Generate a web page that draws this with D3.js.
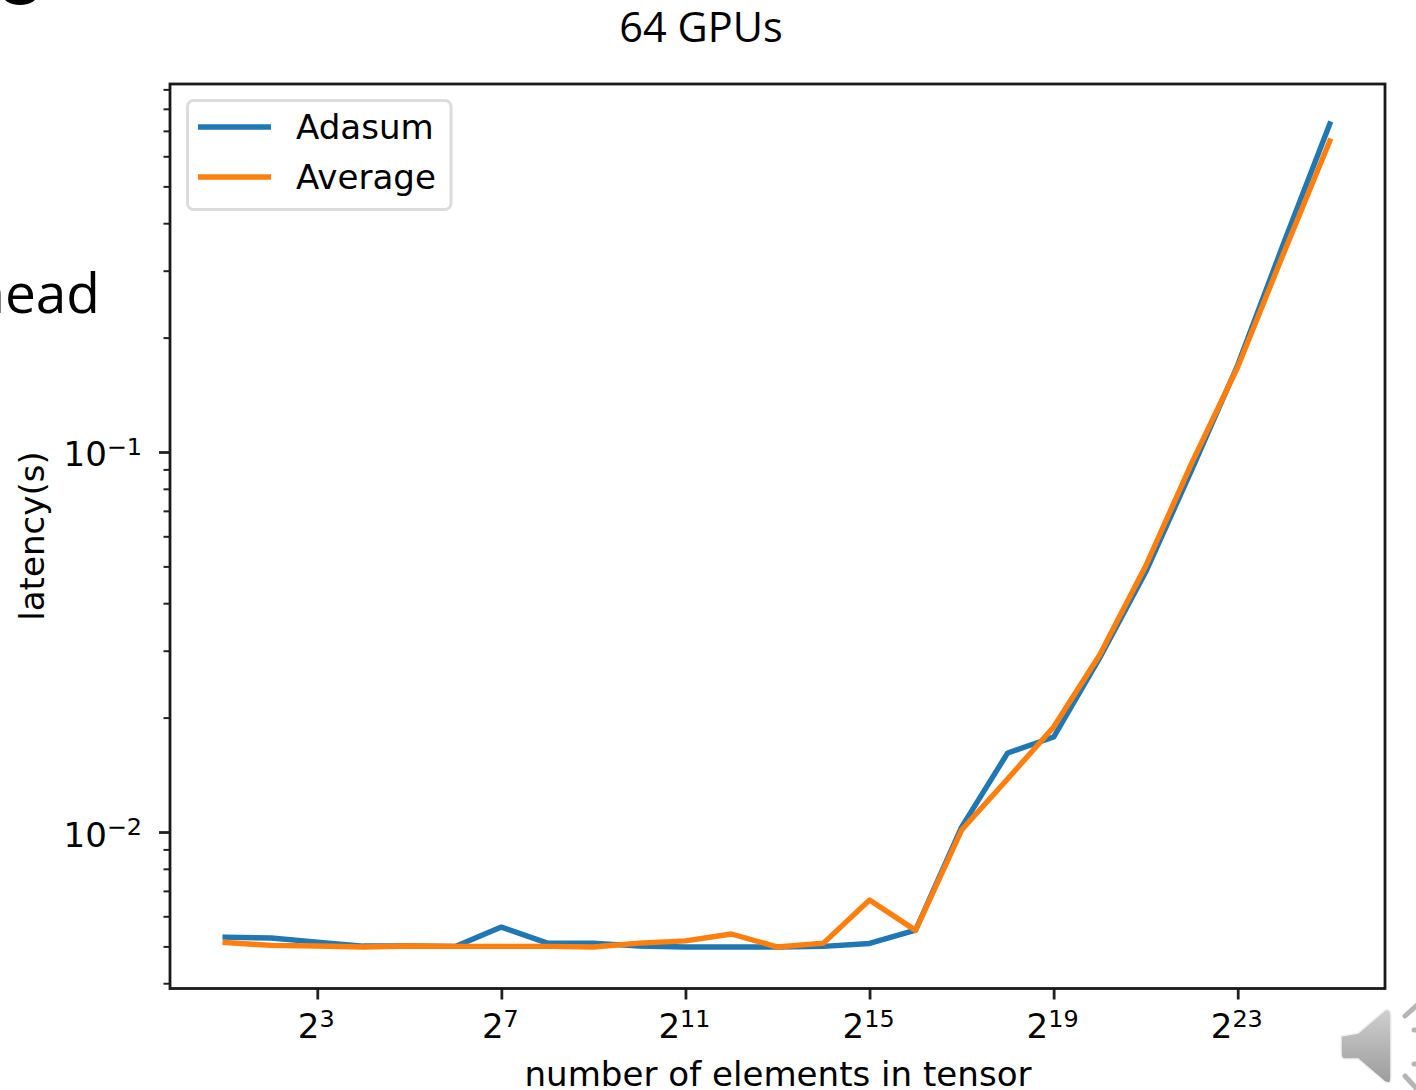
<!DOCTYPE html>
<html>
<head>
<meta charset="utf-8">
<style>
  html, body { margin: 0; padding: 0; background: #fff; overflow: hidden; }
  svg { display: block; }
  text { font-family: "DejaVu Sans", sans-serif; fill: #000; }
  .slide { font-family: "Open Sans", "Noto Sans", sans-serif; }
</style>
<script src="https://cdn.jsdelivr.net/npm/d3@7"></script>
</head>
<body>
<svg id="chart" width="1416" height="1090"></svg>
<script>
// element count is 2^exponent
const exponents = [1, 2, 3, 4, 5, 6, 7, 8, 9, 10, 11, 12, 13, 14, 15, 16, 17, 18, 19, 20, 21, 22, 23, 24, 25];
const adasum = [0.00529, 0.00526, 0.00513, 0.00501, 0.00501, 0.005, 0.00562, 0.0051, 0.0051, 0.00501, 0.00498, 0.00498, 0.00498, 0.005, 0.00509, 0.00552, 0.0103, 0.01614, 0.01778, 0.0287, 0.04832, 0.0897, 0.1694, 0.3548, 0.7295];
const average = [0.00512, 0.00503, 0.00501, 0.00498, 0.00501, 0.005, 0.005, 0.005, 0.00498, 0.0051, 0.00517, 0.00539, 0.00498, 0.0051, 0.00662, 0.00551, 0.01012, 0.01379, 0.0189, 0.02922, 0.05012, 0.0935, 0.1674, 0.334, 0.658];

const xTicks = [3, 7, 11, 15, 19, 23];
const yMajor = [0.01, 0.1];
const yMinor = [0.004, 0.005, 0.006, 0.007, 0.008, 0.009, 0.02, 0.03, 0.04, 0.05, 0.06, 0.07, 0.08, 0.09, 0.2, 0.3, 0.4, 0.5, 0.6, 0.7, 0.8, 0.9];

const colors = { Adasum: "#1f77b4", Average: "#ff7f0e" };
const series = [
  { name: "Adasum", values: adasum },
  { name: "Average", values: average },
];

const box = { left: 170, right: 1385, top: 84, bottom: 988.5 };
const fontSize = 34.1;

const svg = d3.select("#chart");

const x = d3.scaleLinear().domain([-0.2, 26.2]).range([box.left, box.right]);
const y = d3
  .scaleLog()
  .domain([Math.pow(10, -2.4105), Math.pow(10, -0.0316)])
  .range([988, box.top]);

// base + superscript, like matplotlib's log tick labels
function powerLabel(sel, base, power) {
  sel.text(null);
  sel.append("tspan").text(base);
  sel
    .append("tspan")
    .attr("dy", "-0.48em")
    .attr("font-size", fontSize * 0.7)
    .text(power);
}

const xAxis = svg
  .append("g")
  .attr("transform", `translate(0,${box.bottom})`)
  .call(d3.axisBottom(x).tickValues(xTicks).tickSize(11).tickSizeOuter(0));
xAxis.select(".domain").remove();
xAxis.selectAll("line").attr("stroke", "#222").attr("stroke-width", 2.8);
xAxis
  .selectAll("text")
  .attr("font-size", fontSize)
  .attr("font-family", "DejaVu Sans")
  .attr("x", -1.5)
  .attr("y", 0)
  .attr("dy", 49.5)
  .each(function (d) {
    powerLabel(d3.select(this), "2", d);
  });

const yAxis = svg
  .append("g")
  .attr("transform", `translate(${box.left},0)`)
  .call(d3.axisLeft(y).tickValues(yMajor).tickSize(11).tickSizeOuter(0));
yAxis.select(".domain").remove();
yAxis.selectAll("line").attr("stroke", "#222").attr("stroke-width", 2.8);
yAxis
  .selectAll("text")
  .attr("font-size", fontSize)
  .attr("font-family", "DejaVu Sans")
  .attr("x", -28)
  .attr("dy", 14)
  .each(function (d) {
    powerLabel(d3.select(this), "10", "\u2212" + Math.abs(Math.round(Math.log10(d))));
  });

const yMinorAxis = svg
  .append("g")
  .attr("transform", `translate(${box.left},0)`)
  .call(d3.axisLeft(y).tickValues(yMinor).tickSize(6.5).tickFormat("").tickSizeOuter(0));
yMinorAxis.select(".domain").remove();
yMinorAxis.selectAll("line").attr("stroke", "#222").attr("stroke-width", 2);

const line = d3
  .line()
  .x((d, i) => x(exponents[i]))
  .y((d) => y(d));

svg
  .selectAll("path.series")
  .data(series)
  .enter()
  .append("path")
  .attr("class", "series")
  .attr("d", (d) => line(d.values))
  .attr("fill", "none")
  .attr("stroke", (d) => colors[d.name])
  .attr("stroke-width", 5.4)
  .attr("stroke-linejoin", "round")
  .attr("stroke-linecap", "square");

svg
  .append("rect")
  .attr("x", box.left)
  .attr("y", box.top)
  .attr("width", box.right - box.left)
  .attr("height", box.bottom - box.top)
  .attr("fill", "none")
  .attr("stroke", "#1a1a1a")
  .attr("stroke-width", 2.8);

// legend
const legend = svg.append("g");
legend
  .append("rect")
  .attr("x", 187.5)
  .attr("y", 100.5)
  .attr("width", 263.5)
  .attr("height", 109)
  .attr("rx", 6)
  .attr("fill", "#fff")
  .attr("stroke", "#dcdcdc")
  .attr("stroke-width", 3);

const legendRows = legend
  .selectAll("g")
  .data(series)
  .enter()
  .append("g")
  .attr("transform", (d, i) => `translate(0,${127 + i * 50})`);
legendRows
  .append("line")
  .attr("x1", 198)
  .attr("x2", 271)
  .attr("stroke", (d) => colors[d.name])
  .attr("stroke-width", 5.4);
legendRows
  .append("text")
  .attr("x", 296)
  .attr("y", 12)
  .attr("font-size", fontSize)
  .text((d) => d.name);

svg
  .append("text")
  .attr("x", 778)
  .attr("y", 1086)
  .attr("text-anchor", "middle")
  .attr("font-size", fontSize)
  .text("number of elements in tensor");

svg
  .append("text")
  .attr("transform", "translate(44,536) rotate(-90)")
  .attr("text-anchor", "middle")
  .attr("font-size", fontSize)
  .text("latency(s)");

// slide text around the pasted plot
svg
  .append("text")
  .attr("class", "slide")
  .attr("x", 701)
  .attr("y", 42)
  .attr("text-anchor", "middle")
  .attr("font-size", 41.5)
  .text("64 GPUs");

svg
  .append("text")
  .attr("class", "slide")
  .attr("x", 100)
  .attr("y", 313)
  .attr("text-anchor", "end")
  .attr("font-size", 55)
  .text("head");

svg
  .append("ellipse")
  .attr("cx", 20)
  .attr("cy", -8)
  .attr("rx", 19)
  .attr("ry", 13)
  .attr("fill", "#000");

// speaker icon, bottom right of the slide
const grad = svg
  .append("defs")
  .append("linearGradient")
  .attr("id", "speaker")
  .attr("x1", 0)
  .attr("y1", 0)
  .attr("x2", 0)
  .attr("y2", 1);
grad.append("stop").attr("offset", 0).attr("stop-color", "#cfcfcf");
grad.append("stop").attr("offset", 1).attr("stop-color", "#9c9c9c");

svg
  .append("path")
  .attr("d", "M1341,1036 L1358,1033 L1385,1010 Q1391,1008 1391,1016 L1391,1078 Q1391,1085 1385,1082 L1358,1059 L1345,1059 Q1341,1059 1341,1054 Z")
  .attr("fill", "url(#speaker)")
  .attr("stroke", "#f2f2f2")
  .attr("stroke-width", 1.5);

const waves = ["M1405,1016 L1416,1006", "M1405,1076 L1416,1088", "M1414,1030 L1416,1030", "M1414,1064 L1416,1064"];
svg
  .selectAll("path.wave")
  .data(waves)
  .enter()
  .append("path")
  .attr("class", "wave")
  .attr("d", (d) => d)
  .attr("stroke", "#b5b5b5")
  .attr("stroke-width", 5)
  .attr("stroke-linecap", "round");
</script>
</body>
</html>
